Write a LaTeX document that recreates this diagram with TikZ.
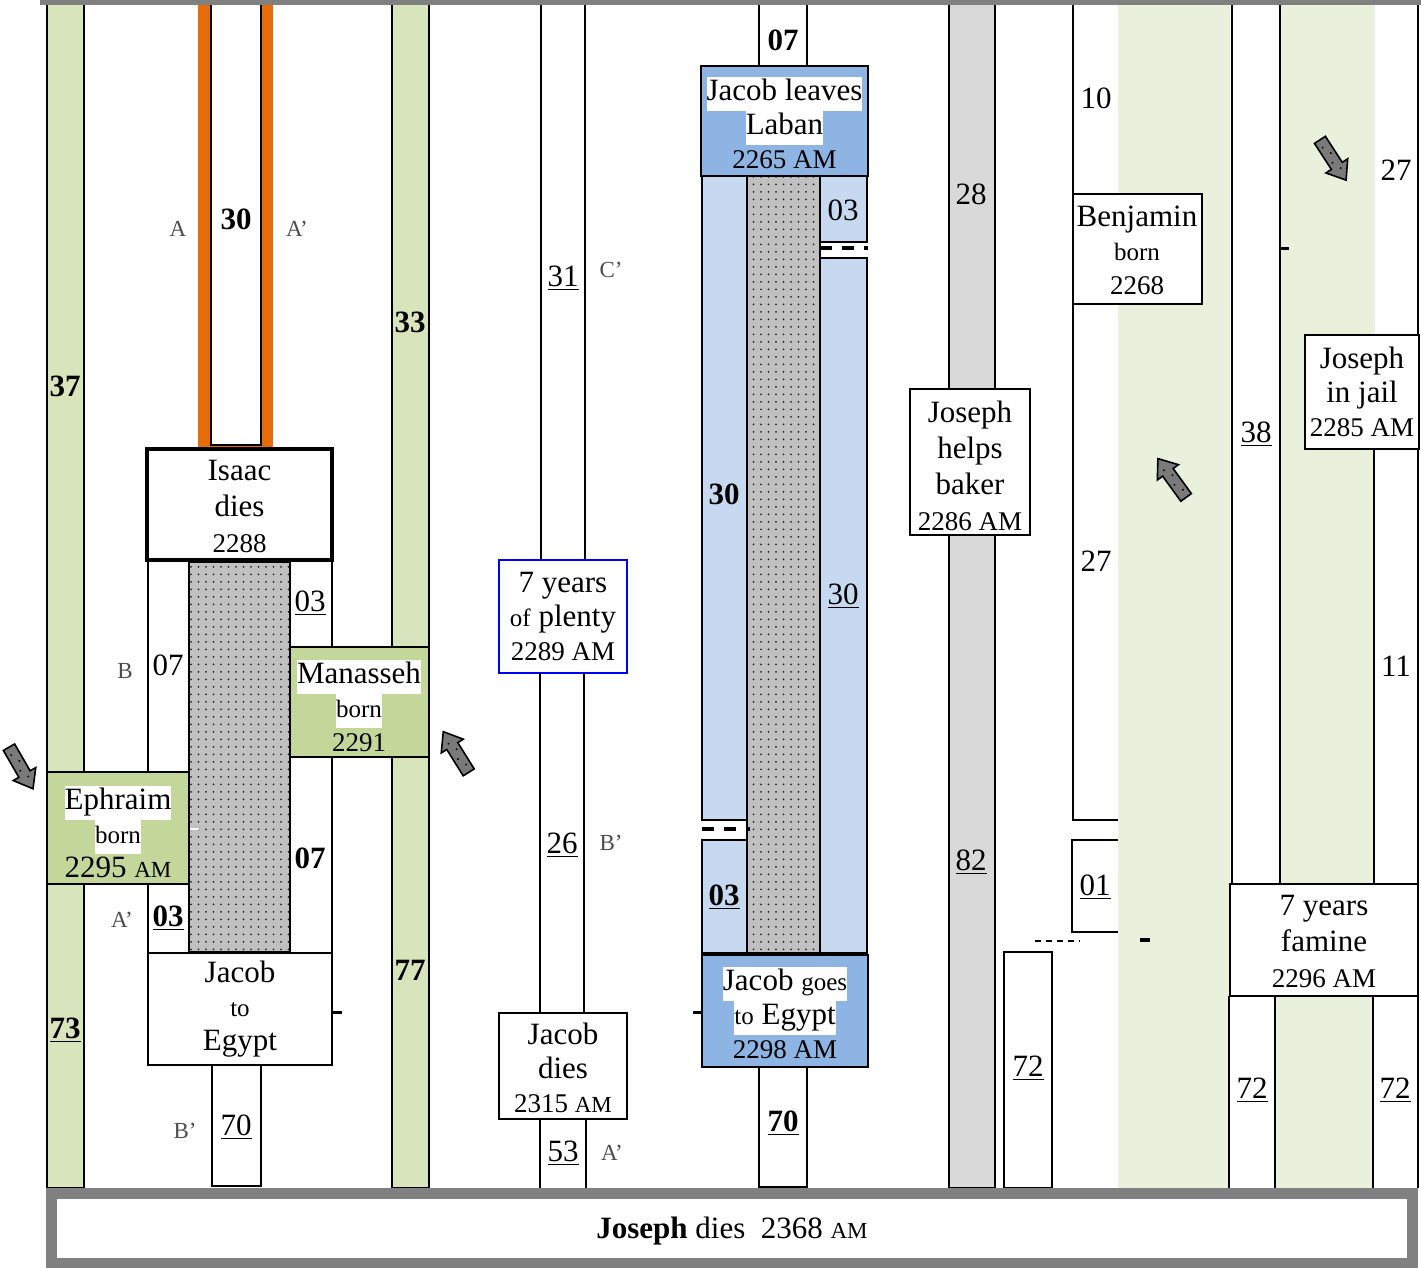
\documentclass[tikz,border=0pt]{standalone}
\usepackage{fontspec}
\setmainfont{Liberation Serif}
\usetikzlibrary{patterns}

\definecolor{barGreen}{HTML}{D8E4BC}
\definecolor{boxGreen}{HTML}{C4D79B}
\definecolor{paleGreen}{HTML}{E9F0DC}
\definecolor{orangeBar}{HTML}{E46C0A}
\definecolor{lightBlue}{HTML}{C6D9F1}
\definecolor{midBlue}{HTML}{8DB4E2}
\definecolor{grayCol}{HTML}{D9D9D9}
\definecolor{stipGray}{HTML}{C0C0C0}
\definecolor{frameGray}{HTML}{808080}
\definecolor{letterGray}{HTML}{4D4D4D}
\definecolor{arrowGray}{HTML}{7A7A7A}

\pgfdeclarepatternformonly{stipple}{\pgfqpoint{-1pt}{-1pt}}{\pgfqpoint{4.75pt}{4.75pt}}{\pgfqpoint{3.75pt}{3.75pt}}{%
  \pgfpathcircle{\pgfqpoint{1.8pt}{1.8pt}}{0.5pt}%
  \pgfusepath{fill}}

\newcommand\YrFont{\fontsize{13.5}{17}\selectfont}
\newcommand\SmFont{\fontsize{12.5}{17}\selectfont}
\newcommand\ScAM{{\fontsize{11.5}{12}\selectfont AM}}
\newcommand\WB[1]{{\setlength{\fboxsep}{0pt}\colorbox{white}{\strut #1}}}

\tikzset{
  ln/.style={draw=black, line width=0.9pt},
  stip/.style={fill=stipGray, postaction={pattern=stipple, pattern color=black!85}},
  tx/.style={inner sep=0pt, align=center, font=\fontsize{15.5}{17}\selectfont},
  txw/.style={inner sep=0pt, align=center, font=\fontsize{15.5}{18}\selectfont},
  lb/.style={inner sep=0pt, font=\fontsize{11.5}{13}\selectfont, text=letterGray},
  tick/.style={draw=black, line width=1.5pt},
  blockarrow/.pic={
    \draw[fill=arrowGray, line width=0.8pt, line join=miter]
      (-6.5,-24)--(6.5,-24)--(6.5,7)--(13,7)--(0,24)--(-13,7)--(-6.5,7)--cycle;
    \fill[black] (-2,-16) circle (1.1) (2,-7) circle (1.1) (-2,2) circle (1.1) (2,11) circle (1.1);
  }
}

\begin{document}
\begin{tikzpicture}[x=0.5pt,y=-0.5pt]
\useasboundingbox (0,0) rectangle (1421,1268);
\fill[white] (0,0) rectangle (1421,1268);

% pale green regions
\fill[paleGreen] (1118,4) rectangle (1230,1188);
\fill[paleGreen] (1280,4) rectangle (1375,884);
\fill[paleGreen] (1275,996) rectangle (1373,1188);

% ---------- left part ----------
\draw[ln, fill=barGreen] (47,4) rectangle (84,1188);
\draw[ln, fill=barGreen] (392,4) rectangle (429,1188);

\fill[orangeBar] (198,4) rectangle (273,447);
\draw[ln, fill=white] (211,4) rectangle (261,445);

\draw[ln] (148,560) -- (148,953);
\draw[ln] (332,560) -- (332,953);
\draw[ln, stip] (189,562) rectangle (290,952);
\draw[white, line width=1.2pt] (190,829) -- (199,829);

\draw[line width=2pt, fill=white] (147,449) rectangle (332,560);
\draw[ln, fill=boxGreen] (290,647) rectangle (429,757);
\draw[ln, fill=boxGreen] (47,772) rectangle (189,884);
\draw[ln, fill=white] (148,953) rectangle (332,1065);
\draw[tick] (332,1012) -- (342,1012);
\draw[ln, fill=white] (212,1065) rectangle (261,1186);

% ---------- middle column ----------
\draw[ln] (541,4) -- (541,560);
\draw[ln] (585,4) -- (585,560);
\draw[draw=blue, line width=0.6pt, fill=white] (499,560) rectangle (627,673);
\draw[ln] (540,673) -- (540,1013);
\draw[ln] (584,673) -- (584,1013);
\draw[ln, fill=white] (499,1013) rectangle (627,1119);
\draw[ln] (540,1119) -- (540,1188);
\draw[ln] (586,1119) -- (586,1188);

% ---------- Jacob column ----------
\draw[ln, fill=white] (759,4) rectangle (807,66);
\draw[ln, stip] (747,176) rectangle (820,953);
\draw[ln, fill=lightBlue] (702,176) rectangle (747,820);
\draw[ln, fill=lightBlue] (702,840) rectangle (747,953);
\draw[ln, fill=lightBlue] (820,176) rectangle (867,242);
\fill[white] (821,243) rectangle (867,257);
\draw[ln, fill=lightBlue] (820,258) rectangle (867,953);
\draw[line width=1.6pt, dash pattern=on 6pt off 5pt] (702,829) -- (750,829);
\draw[line width=1.6pt, dash pattern=on 6pt off 5pt] (820,248) -- (868,248);
\draw[ln, fill=midBlue] (701,66) rectangle (868,176);
\draw[ln, fill=midBlue] (702,955) rectangle (868,1067);
\draw[tick] (693,1012) -- (702,1012);
\draw[ln, fill=white] (759,1067) rectangle (807,1187);

% ---------- gray column ----------
\draw[ln, fill=grayCol] (949,4) rectangle (995,1188);
\draw[ln, fill=white] (910,389) rectangle (1030,535);

% ---------- Benjamin column ----------
\draw[ln] (1073,4) -- (1073,820) -- (1118,820);
\draw[ln, fill=white] (1073,194) rectangle (1202,304);
\draw[ln] (1118,840) -- (1072,840) -- (1072,932) -- (1118,932);
\draw[line width=0.6pt, dash pattern=on 3pt off 2.5pt] (1035,941) -- (1080,941);
\draw[line width=1.6pt] (1140,940) -- (1150,940);
\draw[ln, fill=white] (1004,952) rectangle (1052,1188);

% ---------- right part ----------
\draw[ln] (1232,4) -- (1232,884);
\draw[ln] (1280,4) -- (1280,884);
\draw[ln] (1418,4) -- (1418,884);
\draw[ln] (1374,449) -- (1374,884);
\draw[tick] (1281,249) -- (1289,249);
\draw[ln, fill=white] (1305,335) rectangle (1419,449);
\draw[ln, fill=white] (1230,884) rectangle (1418,996);
\draw[ln] (1229,996) -- (1229,1188);
\draw[ln] (1275,996) -- (1275,1188);
\draw[ln] (1373,996) -- (1373,1188);
\draw[ln] (1418,996) -- (1418,1188);

% ---------- frame ----------
\fill[frameGray] (40,0) rectangle (1421,5);
\fill[frameGray] (46,1188) rectangle (1418,1268);
\fill[white] (57,1199) rectangle (1407,1258);

% ---------- arrows ----------
\pic[rotate=30] (arrA) at (21,768) {blockarrow};
\pic[rotate=212] (arrB) at (456,752) {blockarrow};
\pic[rotate=216] (arrC) at (1172,478) {blockarrow};
\pic[rotate=33] (arrD) at (1333,160) {blockarrow};

% ---------- texts: left ----------
\node[tx] (l37) at (65,386) {\textbf{37}};
\node[tx] (l73) at (65,1030) {\textbf{\underline{73}}};
\node[lb] (lA1) at (178,229) {A};
\node[tx] (l30a) at (236,219) {\textbf{30}};
\node[lb] (lA2) at (297,229) {A’};
\node[txw] (tIsaac) at (239.5,506) {Isaac\\dies\\{\YrFont 2288}};
\node[tx] (l07a) at (168,665) {07};
\node[lb] (lB1) at (125,671) {B};
\node[tx] (l03a) at (310,603) {\underline{03}};
\node[tx] (tMan) at (359,706) {\WB{Manasseh}\\\WB{\SmFont born}\\{\YrFont 2291}};
\node[tx] (tEph) at (118,832) {\WB{Ephraim}\\\WB{\SmFont born}\\2295 \ScAM};
\node[tx] (l07b) at (310,858) {\textbf{07}};
\node[lb] (lA3) at (122,920) {A’};
\node[tx] (l03b) at (168,918) {\textbf{\underline{03}}};
\node[tx] (tJE) at (240,1009) {Jacob\\{\SmFont to}\\Egypt};
\node[tx] (l70a) at (236,1127) {\underline{70}};
\node[lb] (lB2) at (185,1131) {B’};
\node[tx] (l33) at (410,322) {\textbf{33}};
\node[tx] (l77) at (410,970) {\textbf{77}};

% ---------- texts: middle ----------
\node[tx] (l31) at (563,278) {\underline{31}};
\node[lb] (lC) at (611,270) {C’};
\node[tx] (tPlenty) at (563,616) {7 years\\{\SmFont of} plenty\\{\YrFont 2289 AM}};
\node[tx] (l26) at (562,845) {\underline{26}};
\node[lb] (lB3) at (611,843) {B’};
\node[tx] (tJD) at (563,1068) {Jacob\\dies\\{\YrFont 2315 \ScAM}};
\node[tx] (l53) at (563,1153) {\underline{53}};
\node[lb] (lA4) at (612,1153) {A’};

% ---------- texts: Jacob column ----------
\node[tx] (l07c) at (783,40) {\textbf{07}};
\node[tx] (tLaban) at (784.5,123) {\WB{Jacob leaves}\\\WB{Laban}\\{\YrFont 2265 AM}};
\node[tx] (l30b) at (724,494) {\textbf{30}};
\node[tx] (l03c) at (843,210) {03};
\node[tx] (l30c) at (843,596) {\underline{30}};
\node[tx] (l03d) at (724,897) {\textbf{\underline{03}}};
\node[tx] (tJGE) at (785,1013) {\WB{Jacob {\SmFont goes}}\\\WB{{\SmFont to} Egypt}\\{\YrFont 2298 AM}};
\node[tx] (l70b) at (783,1123) {\textbf{\underline{70}}};

% ---------- texts: right ----------
\node[tx] (l28) at (971,194) {28};
\node[tx] (l82) at (971,862) {\underline{82}};
\node[txw] (tBaker) at (970,466) {Joseph\\helps\\baker\\{\YrFont 2286 AM}};
\node[tx] (l10) at (1096,98) {10};
\node[tx] (l27a) at (1096,561) {27};
\node[tx] (tBen) at (1137,250) {Benjamin\\{\SmFont born}\\{\YrFont 2268}};
\node[tx] (l01) at (1095,887) {\underline{01}};
\node[tx] (l72a) at (1028,1068) {\underline{72}};
\node[tx] (l38) at (1256,434) {\underline{38}};
\node[tx] (l27b) at (1396,170) {27};
\node[tx] (tJail) at (1362,392) {Joseph\\in jail\\{\YrFont 2285 AM}};
\node[tx] (l11) at (1396,666) {11};
\node[txw] (tFamine) at (1324,941) {7 years\\famine\\{\YrFont 2296 AM}};
\node[tx] (l72b) at (1252,1090) {\underline{72}};
\node[tx] (l72c) at (1395,1090) {\underline{72}};
\node[tx] (tDies) at (732,1231) {\textbf{Joseph} dies\ \ 2368 \ScAM};
\end{tikzpicture}
\end{document}
